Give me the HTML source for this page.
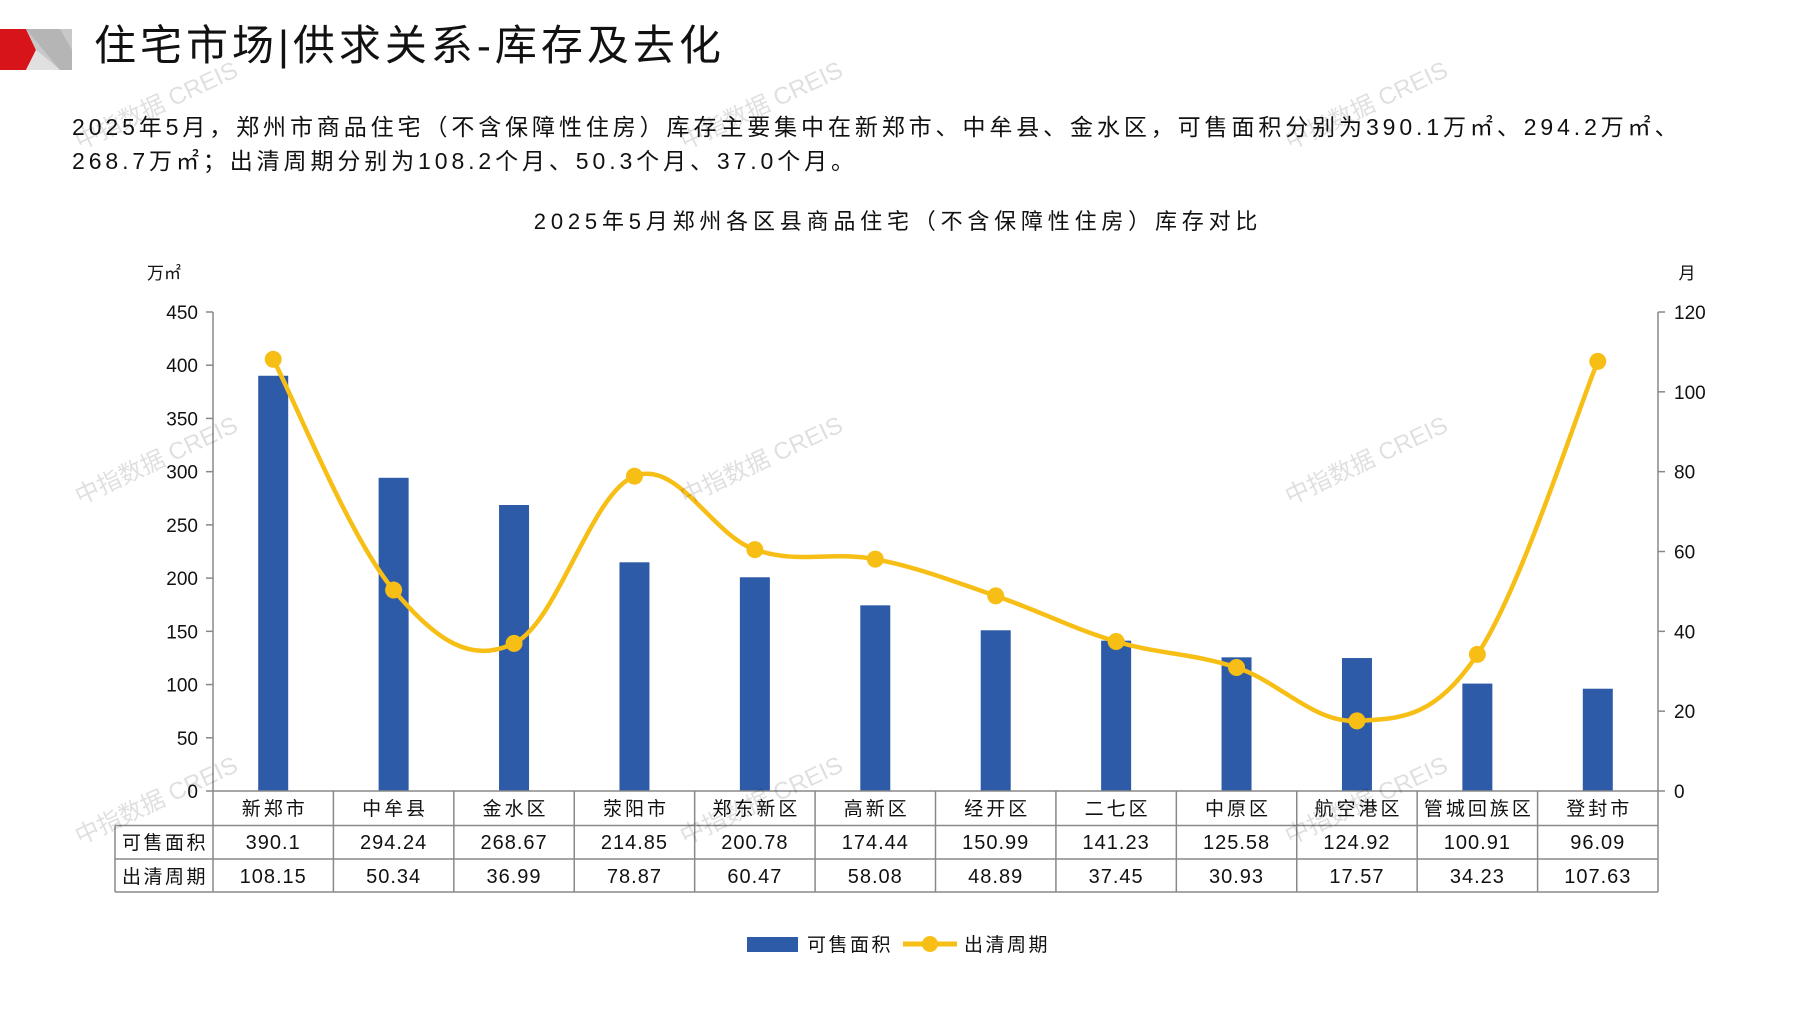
<!DOCTYPE html>
<html><head><meta charset="utf-8"><style>
body{margin:0;background:#fff;width:1797px;height:1010px;overflow:hidden;font-family:"Liberation Sans","Noto Sans CJK SC",sans-serif;}
</style></head><body>
<svg id="s" width="1797" height="1010" xmlns="http://www.w3.org/2000/svg" font-family="Liberation Sans, Noto Sans CJK SC, sans-serif">
<polygon points="0,29 26,29 36,50 26,70 0,70" fill="#d7141a"/>
<polygon points="26,29 72,29 72,70 60,70 36,50" fill="#c8c8c8"/>
<polygon points="26,29 60,29 72,50 72,70 60,70" fill="#a8a8a8" opacity="0.6"/>
<polygon points="36,50 26,70 60,70" fill="#e0e0e0"/>
<text x="94" y="60" font-size="42" fill="#111" letter-spacing="4">住宅市场|供求关系-库存及去化</text>
<text x="72" y="135" font-size="23" fill="#111" letter-spacing="3.9">2025年5月，郑州市商品住宅（不含保障性住房）库存主要集中在新郑市、中牟县、金水区，可售面积分别为390.1万㎡、294.2万㎡、</text>
<text x="72" y="169" font-size="23" fill="#111" letter-spacing="3.9">268.7万㎡；出清周期分别为108.2个月、50.3个月、37.0个月。</text>
<text x="898" y="229" font-size="22" fill="#111" text-anchor="middle" letter-spacing="4.8">2025年5月郑州各区县商品住宅（不含保障性住房）库存对比</text>
<text x="164" y="279" font-size="17" fill="#111" text-anchor="middle">万㎡</text>
<text x="1687" y="279" font-size="17" fill="#111" text-anchor="middle">月</text>
<g id="g"></g>
</svg>
<script>
var g=document.getElementById('g');var h='';
var L=213,R=1658,T=312,B=791,cw=(R-L)/12;
var names=['新郑市','中牟县','金水区','荥阳市','郑东新区','高新区','经开区','二七区','中原区','航空港区','管城回族区','登封市'];
var a=[390.1,294.24,268.67,214.85,200.78,174.44,150.99,141.23,125.58,124.92,100.91,96.09];
var p=[108.15,50.34,36.99,78.87,60.47,58.08,48.89,37.45,30.93,17.57,34.23,107.63];
var pa=['390.1','294.24','268.67','214.85','200.78','174.44','150.99','141.23','125.58','124.92','100.91','96.09'];
var pp=['108.15','50.34','36.99','78.87','60.47','58.08','48.89','37.45','30.93','17.57','34.23','107.63'];
h+='<line x1="'+L+'" y1="'+T+'" x2="'+L+'" y2="'+B+'" stroke="#888" stroke-width="1.5"/>';
h+='<line x1="'+R+'" y1="'+T+'" x2="'+R+'" y2="'+B+'" stroke="#888" stroke-width="1.5"/>';
for(var i=0;i<=9;i++){var y=B-i*(B-T)/9;h+='<line x1="'+(L-7)+'" y1="'+y+'" x2="'+L+'" y2="'+y+'" stroke="#888" stroke-width="1.5"/>';h+='<text x="198" y="'+(y+7)+'" font-size="19" text-anchor="end" fill="#111">'+(i*50)+'</text>';}
for(var i=0;i<=6;i++){var y=B-i*(B-T)/6;h+='<line x1="'+R+'" y1="'+y+'" x2="'+(R+7)+'" y2="'+y+'" stroke="#888" stroke-width="1.5"/>';h+='<text x="1674" y="'+(y+7)+'" font-size="19" fill="#111">'+(i*20)+'</text>';}
var pts=[];
for(var i=0;i<12;i++){var cx=L+cw*(i+.5);var bh=a[i]/450*(B-T);h+='<rect x="'+(cx-15)+'" y="'+(B-bh)+'" width="30" height="'+bh+'" fill="#2e5ba8"/>';pts.push([cx,B-p[i]/120*(B-T)]);}
var d='M'+pts[0][0]+','+pts[0][1];
for(var i=0;i<11;i++){var p0=pts[Math.max(i-1,0)],p1=pts[i],p2=pts[i+1],p3=pts[Math.min(i+2,11)];var t=0.36;
d+=' C'+(p1[0]+(p2[0]-p0[0])*t/2)+','+(p1[1]+(p2[1]-p0[1])*t/2)+' '+(p2[0]-(p3[0]-p1[0])*t/2)+','+(p2[1]-(p3[1]-p1[1])*t/2)+' '+p2[0]+','+p2[1];}
h+='<path d="'+d+'" fill="none" stroke="#f7bf16" stroke-width="4.5"/>';
for(var i=0;i<12;i++)h+='<circle cx="'+pts[i][0]+'" cy="'+pts[i][1]+'" r="8.5" fill="#f7bf16"/>';
var rows=[791,825.5,859,892];var TL=115;
h+='<g stroke="#888" stroke-width="1.5" fill="none">';
h+='<line x1="'+L+'" y1="791" x2="'+R+'" y2="791"/>';
for(var r=1;r<4;r++)h+='<line x1="'+TL+'" y1="'+rows[r]+'" x2="'+R+'" y2="'+rows[r]+'"/>';
h+='<line x1="'+TL+'" y1="825.5" x2="'+TL+'" y2="892"/>';
for(var i=0;i<=12;i++){var x=L+cw*i;h+='<line x1="'+x+'" y1="791" x2="'+x+'" y2="892"/>';}
h+='</g>';
h+='<text x="'+((TL+L)/2+1)+'" y="849" font-size="19" text-anchor="middle" fill="#111" letter-spacing="2.5">可售面积</text>';
h+='<text x="'+((TL+L)/2+1)+'" y="883" font-size="19" text-anchor="middle" fill="#111" letter-spacing="2.5">出清周期</text>';
for(var i=0;i<12;i++){var cx=L+cw*(i+.5);
h+='<text x="'+(cx+1.5)+'" y="815" font-size="19" text-anchor="middle" fill="#111" letter-spacing="3">'+names[i]+'</text>';
h+='<text x="'+cx+'" y="849" font-size="20" text-anchor="middle" fill="#111" letter-spacing="1">'+pa[i]+'</text>';
h+='<text x="'+cx+'" y="883" font-size="20" text-anchor="middle" fill="#111" letter-spacing="1">'+pp[i]+'</text>';}
h+='<rect x="747" y="937" width="51" height="15" fill="#2e5ba8"/><text x="807" y="951" font-size="19" fill="#111" letter-spacing="2.5">可售面积</text>';
h+='<line x1="903" y1="944" x2="957" y2="944" stroke="#f7bf16" stroke-width="5"/><circle cx="930" cy="944" r="8" fill="#f7bf16"/><text x="964" y="951" font-size="19" fill="#111" letter-spacing="2.5">出清周期</text>';
var wm=[[80,150],[685,150],[1290,150],[80,505],[685,505],[1290,505],[80,845],[685,845],[1290,845]];
for(var i=0;i<wm.length;i++)h+='<text x="'+wm[i][0]+'" y="'+wm[i][1]+'" font-size="24" fill="#000" opacity="0.12" transform="rotate(-25 '+wm[i][0]+' '+wm[i][1]+')">中指数据 CREIS</text>';
g.innerHTML=h;
</script>
</body></html>
